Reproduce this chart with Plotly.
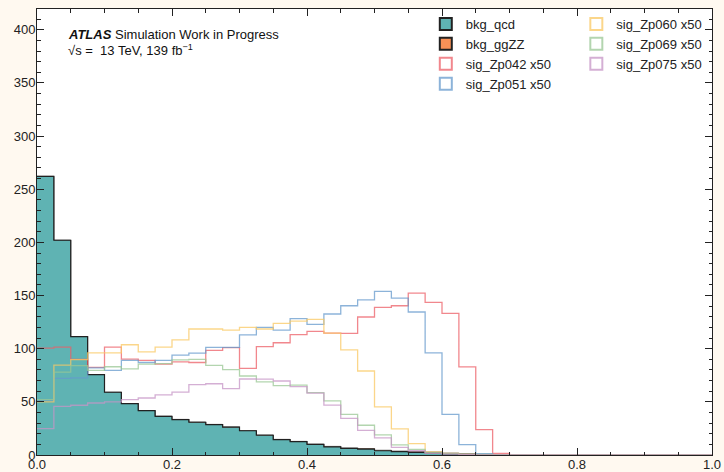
import numpy as np
import plotly.graph_objects as go

# 40 bins on [0, 1]
bin_edges = np.linspace(0.0, 1.0, 41)

bkg_qcd = [262, 202, 111.3, 75.6, 59, 48.3, 41.7, 36.4, 33.3, 30.8,
           28.6, 26.2, 22.8, 18.6, 14.4, 12.5, 9.9, 7.7, 6.2, 5.6,
           4.0, 3.1, 2.5, 2.0, 1.0, 0.6, 0.4, 0.3, 0.2, 0.0,
           0, 0, 0, 0, 0, 0, 0, 0, 0, 0]
bkg_ggZZ = [0.1, 0.1, 0.1, 0.1, 0.1, 0.1, 0.1, 0.1, 0.2, 0.2,
            0.2, 0.2, 0.2, 0.3, 0.3, 0.3, 0.3, 0.4, 0.4, 0.5,
            0.5, 0.6, 0.7, 0.8, 0.8, 0.5, 0.2, 0.1, 0.0, 0.0,
            0, 0, 0, 0, 0, 0, 0, 0, 0, 0]
sig_Zp042 = [100.5, 101.5, 90.0, 82.5, 101.5, 90.2, 89.0, 85.5, 87.6, 87.0,
             98.4, 101.0, 81.5, 102.0, 105.6, 113.2, 116.3, 114.7, 114.4, 129.8,
             138.8, 140.4, 152.3, 143.5, 133.2, 82.8, 23.9, 1.6, 0.0, 0.0,
             0, 0, 0, 0, 0, 0, 0, 0, 0, 0]
sig_Zp051 = [51.0, 72.0, 72.5, 82.0, 79.6, 89.0, 87.0, 89.0, 94.0, 95.8,
             101.2, 101.2, 113.0, 120.0, 117.5, 128.2, 122.8, 132.6, 140.4, 146.0,
             153.9, 147.6, 134.5, 96.0, 38.3, 9.8, 1.3, 0.3, 0.0, 0.0,
             0, 0, 0, 0, 0, 0, 0, 0, 0, 0]
sig_Zp060 = [50.0, 84.5, 89.7, 96.0, 96.0, 103.7, 97.0, 101.5, 108.3, 118.5,
             118.5, 117.5, 120.0, 118.5, 123.8, 126.0, 127.6, 114.7, 98.8, 79.0,
             45.2, 24.5, 10.7, 2.9, 1.6, 0.5, 0.2, 0.0, 0.0, 0.0,
             0, 0, 0, 0, 0, 0, 0, 0, 0, 0]
sig_Zp069 = [52.0, 78.0, 84.0, 79.6, 83.0, 81.0, 85.5, 86.0, 89.5, 90.0,
             84.3, 80.3, 74.3, 68.7, 65.3, 65.8, 58.6, 51.0, 38.3, 28.0,
             19.0, 9.6, 5.3, 2.3, 1.2, 0.8, 0.5, 0.3, 0.2, 0.0,
             0, 0, 0, 0, 0, 0, 0, 0, 0, 0]
sig_Zp075 = [24.8, 45.8, 46.8, 48.9, 49.9, 52.0, 53.6, 56.5, 59.1, 66.1,
             67.0, 62.4, 71.5, 71.3, 69.6, 64.3, 58.2, 47.0, 34.4, 23.2,
             16.2, 7.1, 4.0, 1.5, 0.8, 0.5, 0.2, 0.0, 0.0, 0.0,
             0, 0, 0, 0, 0, 0, 0, 0, 0, 0]

bkg_names = ["bkg_qcd", "bkg_ggZZ"]
sig_names = ["sig_Zp042 x50", "sig_Zp051 x50", "sig_Zp060 x50",
             "sig_Zp069 x50", "sig_Zp075 x50"]
x_tick_vals = [0.0, 0.2, 0.4, 0.6, 0.8, 1.0]
x_tick_text = ["0.0", "0.2", "0.4", "0.6", "0.8", "1.0"]
y_tick_vals = [0, 50, 100, 150, 200, 250, 300, 350, 400]

c_qcd = "#5fb3b3"
c_ggzz = "#f99157"
sig_colors = ["rgba(236,95,103,0.75)", "rgba(102,153,204,0.75)",
              "rgba(250,200,99,0.75)", "rgba(153,199,148,0.75)",
              "rgba(197,148,197,0.75)"]

FONT = "Liberation Sans, Arial, Helvetica, sans-serif"


def step_y(vals):
    return list(vals) + [vals[-1]]


fig = go.Figure()

# stacked backgrounds
qcd_y = step_y(bkg_qcd)
stack2 = [a + b for a, b in zip(bkg_qcd, bkg_ggZZ)]
fig.add_trace(go.Scatter(x=bin_edges, y=qcd_y, mode="lines", line_shape="hv",
                         fill="tozeroy", fillcolor=c_qcd,
                         line=dict(color="#222222", width=1.2),
                         showlegend=False, hoverinfo="skip"))
fig.add_trace(go.Scatter(x=bin_edges, y=step_y(stack2), mode="lines", line_shape="hv",
                         fill="tonexty", fillcolor=c_ggzz,
                         line=dict(color="#222222", width=0.6),
                         showlegend=False, hoverinfo="skip"))

sig_data = [sig_Zp042, sig_Zp051, sig_Zp060, sig_Zp069, sig_Zp075]
for vals, col in zip(sig_data, sig_colors):
    fig.add_trace(go.Scatter(x=bin_edges, y=step_y(vals), mode="lines", line_shape="hv",
                             line=dict(color=col, width=1.3),
                             showlegend=False, hoverinfo="skip"))

# legend entries (patch style)
fig.add_trace(go.Bar(x=[None], y=[None], name=bkg_names[0],
                     marker=dict(color=c_qcd, line=dict(color="#222222", width=1)),
                     legend="legend"))
fig.add_trace(go.Bar(x=[None], y=[None], name=bkg_names[1],
                     marker=dict(color=c_ggzz, line=dict(color="#222222", width=1)),
                     legend="legend"))
for i, (nm, col) in enumerate(zip(sig_names, sig_colors)):
    fig.add_trace(go.Bar(x=[None], y=[None], name=nm,
                         marker=dict(color="rgba(0,0,0,0)", line=dict(color=col, width=1)),
                         legend="legend" if i < 2 else "legend2"))

axis_common = dict(
    showline=True, linecolor="#222222", linewidth=1, mirror="allticks",
    ticks="inside", ticklen=7, tickwidth=1, tickcolor="#222222",
    showgrid=False, zeroline=False, automargin=False,
    tickfont=dict(family=FONT, size=13, color="#222222"),
)

fig.update_xaxes(range=[0, 1], tickvals=x_tick_vals, ticktext=x_tick_text,
                 ticklabelstandoff=-3,
                 minor=dict(ticks="inside", ticklen=3.5, tickcolor="#222222", dtick=0.05,
                            showgrid=False),
                 **axis_common)
fig.update_yaxes(range=[0, 419.5], tickvals=y_tick_vals,
                 ticklabelstandoff=-2,
                 minor=dict(ticks="inside", ticklen=3.5, tickcolor="#222222", dtick=10,
                            showgrid=False),
                 **axis_common)

legend_common = dict(
    bgcolor="rgba(0,0,0,0)", borderwidth=0, traceorder="normal",
    font=dict(family=FONT, size=13, color="#222222"),
    xanchor="left", yanchor="top", tracegroupgap=0, itemsizing="constant",
)

fig.update_layout(
    width=724, height=472,
    margin=dict(l=36.5, r=12, t=9, b=16.6),
    paper_bgcolor="#fff9f0", plot_bgcolor="#ffffff",
    barmode="overlay",
    legend=dict(x=0.576, y=1.0, **legend_common),
    legend2=dict(x=0.799, y=1.0, **legend_common),
    annotations=[
        dict(xref="paper", yref="paper", x=0.0436, y=0.943, xanchor="left", yanchor="middle",
             showarrow=False, text="<b><i>ATLAS</i></b> Simulation Work in Progress",
             font=dict(family=FONT, size=13, color="#111111")),
        dict(xref="paper", yref="paper", x=0.0436, y=0.908, xanchor="left", yanchor="middle",
             showarrow=False, text="√s =  13 TeV, 139 fb<sup>−1</sup>",
             font=dict(family=FONT, size=13, color="#111111")),
    ],
)

fig.write_html("out.html", config={"displayModeBar": False},
               post_script="document.body.style.margin='0';document.body.style.overflow='hidden';")
